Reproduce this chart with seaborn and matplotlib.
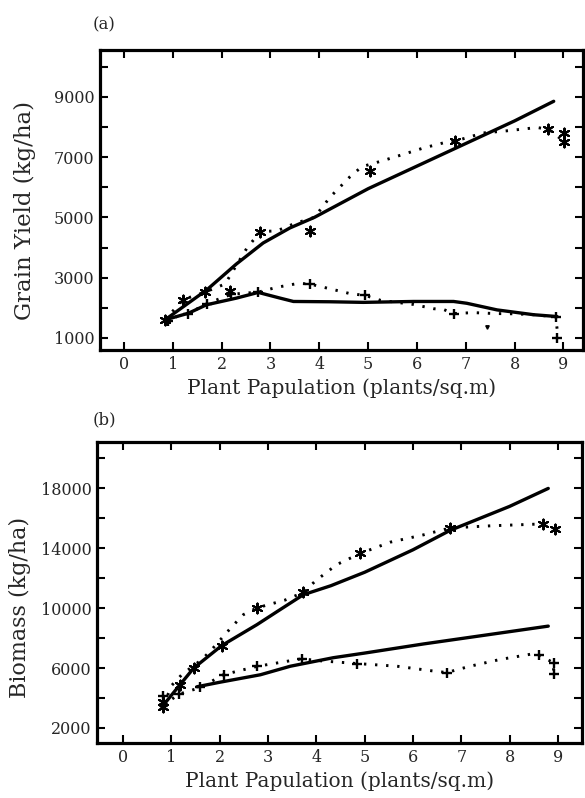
import matplotlib
matplotlib.use("Agg")
import matplotlib.pyplot as plt
from matplotlib.ticker import MultipleLocator, FixedLocator
import seaborn as sns
import pandas as pd

# ---------------- Panel (a): Grain yield ----------------
a_sim_high_x = [0.84, 1.7, 2.3, 2.85, 3.4, 3.9, 5.0, 6.0, 7.0, 8.0, 8.8]
a_sim_high_y = [1600, 2600, 3450, 4150, 4650, 5000, 5950, 6700, 7450, 8200, 8850]

a_obs_high_x = [0.84, 1.21, 1.66, 2.07, 2.51, 2.79, 3.13, 3.5, 3.9, 4.22, 4.63, 4.87, 5.3,
                5.72, 6.13, 6.54, 6.78, 7.36, 7.84, 8.46, 8.69, 8.87, 9.02]
a_obs_high_y = [1600, 2270, 2520, 2790, 3960, 4530, 4550, 4800, 5000, 5670, 6350, 6680, 6880,
                7090, 7300, 7470, 7530, 7800, 7870, 7980, 7920, 7700, 7500]

a_sim_low_x = [0.84, 1.32, 1.69, 2.3, 2.75, 3.2, 3.47, 4.22, 4.9, 5.93, 6.75, 7.02, 7.64, 8.39, 8.87]
a_sim_low_y = [1600, 1820, 2100, 2320, 2510, 2320, 2210, 2200, 2180, 2210, 2210, 2150, 1930, 1770, 1710]

a_obs_low_x = [0.84, 1.32, 1.7, 2.2, 2.75, 3.13, 3.57, 3.8, 4.22, 4.63, 4.94, 5.25, 5.93,
               6.34, 6.55, 6.75, 7.16, 7.57, 8.0, 8.4, 8.84, 8.87, 8.87]
a_obs_low_y = [1600, 1810, 2140, 2450, 2520, 2680, 2810, 2790, 2630, 2470, 2410, 2250, 2110,
               1970, 1940, 1810, 1840, 1810, 1800, 1770, 1700, 1290, 990]

a_star_x = [0.84, 1.21, 1.66, 2.17, 2.79, 3.8, 5.03, 6.78, 8.69, 9.02, 9.02]
a_star_y = [1600, 2270, 2520, 2560, 4530, 4550, 6540, 7530, 7920, 7790, 7500]
a_plus_x = [0.9, 1.32, 1.7, 2.2, 2.75, 3.8, 4.94, 6.75, 8.84, 8.87]
a_plus_y = [1550, 1810, 2140, 2450, 2520, 2790, 2410, 1810, 1700, 990]

# ---------------- Panel (b): Biomass ----------------
b_sim_high_x = [0.8, 1.46, 2.04, 2.77, 3.2, 3.73, 4.3, 5.0, 6.0, 6.77, 8.0, 8.8]
b_sim_high_y = [3400, 6000, 7500, 8900, 9800, 10900, 11500, 12400, 13900, 15200, 16800, 18000]

b_obs_high_x = [0.83, 1.01, 1.22, 1.63, 1.84, 2.25, 2.49, 2.77, 3.35, 3.73, 3.98, 4.42, 4.91,
                5.53, 6.22, 6.77, 7.6, 8.7, 8.94]
b_obs_high_y = [3500, 4860, 5580, 6570, 7260, 8760, 9570, 10020, 10540, 11050, 11820, 12910, 13660,
                14410, 14900, 15360, 15500, 15630, 15300]

b_sim_low_x = [1.53, 2.0, 2.84, 3.46, 4.35, 5.0, 6.22, 7.5, 8.8]
b_sim_low_y = [4750, 5050, 5550, 6120, 6690, 7000, 7610, 8200, 8800]

b_obs_low_x = [0.83, 1.15, 1.6, 2.08, 2.77, 3.7, 4.01, 4.84, 5.67, 6.49, 6.7, 7.18, 7.8,
               8.43, 8.6, 8.91, 8.91]
b_obs_low_y = [3500, 4250, 4700, 5560, 6110, 6620, 6500, 6300, 6120, 5770, 5700, 6120, 6570,
               6920, 6880, 6350, 5590]

b_star_x = [0.83, 0.83, 1.18, 1.46, 2.04, 2.77, 3.73, 4.91, 6.77, 8.7, 8.94]
b_star_y = [3400, 3700, 4870, 6000, 7500, 10020, 11050, 13660, 15360, 15630, 15300]
b_plus_x = [0.83, 1.15, 1.6, 2.08, 2.77, 3.7, 4.84, 6.7, 8.6, 8.91, 8.91]
b_plus_y = [4100, 4250, 4700, 5560, 6110, 6620, 6300, 5700, 6880, 6350, 5590]

x_ticks = [0, 1, 2, 3, 4, 5, 6, 7, 8, 9]
a_yticks = [1000, 3000, 5000, 7000, 9000]
b_yticks = [2000, 6000, 10000, 14000, 18000]
xlabel = "Plant Papulation (plants/sq.m)"
a_ylabel = "Grain Yield (kg/ha)"
b_ylabel = "Biomass (kg/ha)"

sns.set_theme(style="ticks")
plt.rcParams["font.family"] = ["DejaVu Serif"]

fig = plt.figure(figsize=(5.85, 7.98), dpi=100)
ax_a = fig.add_axes([0.171, 0.5614, 0.8256, 0.3759])
ax_b = fig.add_axes([0.166, 0.0689, 0.829, 0.3772])

ASTER = (6, 2, 0)
DOT = (0, (0.8, 3.0))


def draw(ax, sh_x, sh_y, oh_x, oh_y, sl_x, sl_y, ol_x, ol_y, st_x, st_y, pl_x, pl_y):
    for xs, ys in [(sh_x, sh_y), (sl_x, sl_y)]:
        sns.lineplot(x=xs, y=ys, ax=ax, sort=False, estimator=None, color="black",
                     linewidth=2.4, solid_capstyle="round")
    for xs, ys in [(oh_x, oh_y), (ol_x, ol_y)]:
        sns.lineplot(x=xs, y=ys, ax=ax, sort=False, estimator=None, color="black",
                     linewidth=2.1, linestyle=DOT)
    sns.scatterplot(x=st_x, y=st_y, ax=ax, marker=ASTER, s=50, color="black", linewidth=1.5)
    sns.scatterplot(x=pl_x, y=pl_y, ax=ax, marker="+", s=50, color="black", linewidth=1.7)


draw(ax_a, a_sim_high_x, a_sim_high_y, a_obs_high_x, a_obs_high_y, a_sim_low_x, a_sim_low_y,
     a_obs_low_x, a_obs_low_y, a_star_x, a_star_y, a_plus_x, a_plus_y)
draw(ax_b, b_sim_high_x, b_sim_high_y, b_obs_high_x, b_obs_high_y, b_sim_low_x, b_sim_low_y,
     b_obs_low_x, b_obs_low_y, b_star_x, b_star_y, b_plus_x, b_plus_y)
# stray observation mark in (a)
ax_a.plot([7.43], [1350], marker="v", markersize=2.5, color="black", linestyle="none")

ax_a.set_xlim(-0.49, 9.4)
ax_a.set_ylim(600, 10550)
ax_b.set_xlim(-0.54, 9.5)
ax_b.set_ylim(990, 21100)

for ax, yt, ystep, ylab, ysize, lc in [(ax_a, a_yticks, 1000, a_ylabel, 16.5, (-0.133, 0.465)),
                                        (ax_b, b_yticks, 2000, b_ylabel, 16, (-0.136, 0.452))]:
    ax.xaxis.set_major_locator(FixedLocator(x_ticks))
    ax.set_xticklabels([str(t) for t in x_ticks])
    ax.yaxis.set_major_locator(FixedLocator(yt))
    ax.set_yticklabels([str(t) for t in yt])
    ax.yaxis.set_minor_locator(MultipleLocator(ystep))
    ax.tick_params(which="both", direction="in", top=True, right=True,
                   length=6, width=1.5, color="black", labelsize=11.5, pad=4)
    for s in ax.spines.values():
        s.set_linewidth(2.3)
        s.set_color("black")
    ax.set_xlabel(xlabel, fontsize=14.5, labelpad=4)
    ax.set_ylabel(ylab, fontsize=ysize)
    ax.yaxis.set_label_coords(*lc)
    ax.grid(False)

fig.text(0.158, 0.969, "(a)", fontsize=12, ha="left", va="center")
fig.text(0.158, 0.474, "(b)", fontsize=12, ha="left", va="center")

fig.savefig("out.png", dpi=100, facecolor="white")
